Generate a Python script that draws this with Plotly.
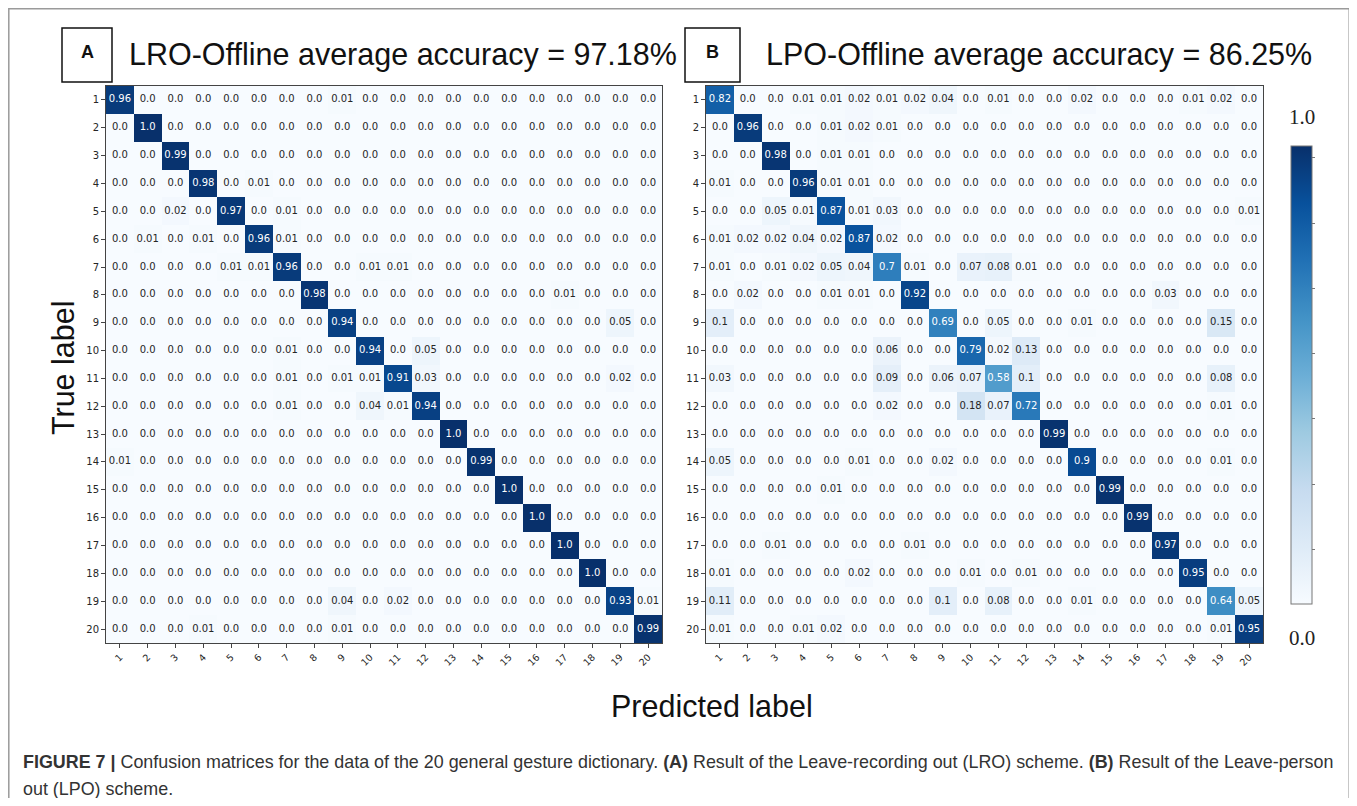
import plotly.graph_objects as go

labels = [str(i) for i in range(1, 21)]

lro_matrix = [
    [0.96, 0.0, 0.0, 0.0, 0.0, 0.0, 0.0, 0.0, 0.01, 0.0, 0.0, 0.0, 0.0, 0.0, 0.0, 0.0, 0.0, 0.0, 0.0, 0.0],
    [0.0, 1.0, 0.0, 0.0, 0.0, 0.0, 0.0, 0.0, 0.0, 0.0, 0.0, 0.0, 0.0, 0.0, 0.0, 0.0, 0.0, 0.0, 0.0, 0.0],
    [0.0, 0.0, 0.99, 0.0, 0.0, 0.0, 0.0, 0.0, 0.0, 0.0, 0.0, 0.0, 0.0, 0.0, 0.0, 0.0, 0.0, 0.0, 0.0, 0.0],
    [0.0, 0.0, 0.0, 0.98, 0.0, 0.01, 0.0, 0.0, 0.0, 0.0, 0.0, 0.0, 0.0, 0.0, 0.0, 0.0, 0.0, 0.0, 0.0, 0.0],
    [0.0, 0.0, 0.02, 0.0, 0.97, 0.0, 0.01, 0.0, 0.0, 0.0, 0.0, 0.0, 0.0, 0.0, 0.0, 0.0, 0.0, 0.0, 0.0, 0.0],
    [0.0, 0.01, 0.0, 0.01, 0.0, 0.96, 0.01, 0.0, 0.0, 0.0, 0.0, 0.0, 0.0, 0.0, 0.0, 0.0, 0.0, 0.0, 0.0, 0.0],
    [0.0, 0.0, 0.0, 0.0, 0.01, 0.01, 0.96, 0.0, 0.0, 0.01, 0.01, 0.0, 0.0, 0.0, 0.0, 0.0, 0.0, 0.0, 0.0, 0.0],
    [0.0, 0.0, 0.0, 0.0, 0.0, 0.0, 0.0, 0.98, 0.0, 0.0, 0.0, 0.0, 0.0, 0.0, 0.0, 0.0, 0.01, 0.0, 0.0, 0.0],
    [0.0, 0.0, 0.0, 0.0, 0.0, 0.0, 0.0, 0.0, 0.94, 0.0, 0.0, 0.0, 0.0, 0.0, 0.0, 0.0, 0.0, 0.0, 0.05, 0.0],
    [0.0, 0.0, 0.0, 0.0, 0.0, 0.0, 0.01, 0.0, 0.0, 0.94, 0.0, 0.05, 0.0, 0.0, 0.0, 0.0, 0.0, 0.0, 0.0, 0.0],
    [0.0, 0.0, 0.0, 0.0, 0.0, 0.0, 0.01, 0.0, 0.01, 0.01, 0.91, 0.03, 0.0, 0.0, 0.0, 0.0, 0.0, 0.0, 0.02, 0.0],
    [0.0, 0.0, 0.0, 0.0, 0.0, 0.0, 0.01, 0.0, 0.0, 0.04, 0.01, 0.94, 0.0, 0.0, 0.0, 0.0, 0.0, 0.0, 0.0, 0.0],
    [0.0, 0.0, 0.0, 0.0, 0.0, 0.0, 0.0, 0.0, 0.0, 0.0, 0.0, 0.0, 1.0, 0.0, 0.0, 0.0, 0.0, 0.0, 0.0, 0.0],
    [0.01, 0.0, 0.0, 0.0, 0.0, 0.0, 0.0, 0.0, 0.0, 0.0, 0.0, 0.0, 0.0, 0.99, 0.0, 0.0, 0.0, 0.0, 0.0, 0.0],
    [0.0, 0.0, 0.0, 0.0, 0.0, 0.0, 0.0, 0.0, 0.0, 0.0, 0.0, 0.0, 0.0, 0.0, 1.0, 0.0, 0.0, 0.0, 0.0, 0.0],
    [0.0, 0.0, 0.0, 0.0, 0.0, 0.0, 0.0, 0.0, 0.0, 0.0, 0.0, 0.0, 0.0, 0.0, 0.0, 1.0, 0.0, 0.0, 0.0, 0.0],
    [0.0, 0.0, 0.0, 0.0, 0.0, 0.0, 0.0, 0.0, 0.0, 0.0, 0.0, 0.0, 0.0, 0.0, 0.0, 0.0, 1.0, 0.0, 0.0, 0.0],
    [0.0, 0.0, 0.0, 0.0, 0.0, 0.0, 0.0, 0.0, 0.0, 0.0, 0.0, 0.0, 0.0, 0.0, 0.0, 0.0, 0.0, 1.0, 0.0, 0.0],
    [0.0, 0.0, 0.0, 0.0, 0.0, 0.0, 0.0, 0.0, 0.04, 0.0, 0.02, 0.0, 0.0, 0.0, 0.0, 0.0, 0.0, 0.0, 0.93, 0.01],
    [0.0, 0.0, 0.0, 0.01, 0.0, 0.0, 0.0, 0.0, 0.01, 0.0, 0.0, 0.0, 0.0, 0.0, 0.0, 0.0, 0.0, 0.0, 0.0, 0.99],
]

lpo_matrix = [
    [0.82, 0.0, 0.0, 0.01, 0.01, 0.02, 0.01, 0.02, 0.04, 0.0, 0.01, 0.0, 0.0, 0.02, 0.0, 0.0, 0.0, 0.01, 0.02, 0.0],
    [0.0, 0.96, 0.0, 0.0, 0.01, 0.02, 0.01, 0.0, 0.0, 0.0, 0.0, 0.0, 0.0, 0.0, 0.0, 0.0, 0.0, 0.0, 0.0, 0.0],
    [0.0, 0.0, 0.98, 0.0, 0.01, 0.01, 0.0, 0.0, 0.0, 0.0, 0.0, 0.0, 0.0, 0.0, 0.0, 0.0, 0.0, 0.0, 0.0, 0.0],
    [0.01, 0.0, 0.0, 0.96, 0.01, 0.01, 0.0, 0.0, 0.0, 0.0, 0.0, 0.0, 0.0, 0.0, 0.0, 0.0, 0.0, 0.0, 0.0, 0.0],
    [0.0, 0.0, 0.05, 0.01, 0.87, 0.01, 0.03, 0.0, 0.0, 0.0, 0.0, 0.0, 0.0, 0.0, 0.0, 0.0, 0.0, 0.0, 0.0, 0.01],
    [0.01, 0.02, 0.02, 0.04, 0.02, 0.87, 0.02, 0.0, 0.0, 0.0, 0.0, 0.0, 0.0, 0.0, 0.0, 0.0, 0.0, 0.0, 0.0, 0.0],
    [0.01, 0.0, 0.01, 0.02, 0.05, 0.04, 0.7, 0.01, 0.0, 0.07, 0.08, 0.01, 0.0, 0.0, 0.0, 0.0, 0.0, 0.0, 0.0, 0.0],
    [0.0, 0.02, 0.0, 0.0, 0.01, 0.01, 0.0, 0.92, 0.0, 0.0, 0.0, 0.0, 0.0, 0.0, 0.0, 0.0, 0.03, 0.0, 0.0, 0.0],
    [0.1, 0.0, 0.0, 0.0, 0.0, 0.0, 0.0, 0.0, 0.69, 0.0, 0.05, 0.0, 0.0, 0.01, 0.0, 0.0, 0.0, 0.0, 0.15, 0.0],
    [0.0, 0.0, 0.0, 0.0, 0.0, 0.0, 0.06, 0.0, 0.0, 0.79, 0.02, 0.13, 0.0, 0.0, 0.0, 0.0, 0.0, 0.0, 0.0, 0.0],
    [0.03, 0.0, 0.0, 0.0, 0.0, 0.0, 0.09, 0.0, 0.06, 0.07, 0.58, 0.1, 0.0, 0.0, 0.0, 0.0, 0.0, 0.0, 0.08, 0.0],
    [0.0, 0.0, 0.0, 0.0, 0.0, 0.0, 0.02, 0.0, 0.0, 0.18, 0.07, 0.72, 0.0, 0.0, 0.0, 0.0, 0.0, 0.0, 0.01, 0.0],
    [0.0, 0.0, 0.0, 0.0, 0.0, 0.0, 0.0, 0.0, 0.0, 0.0, 0.0, 0.0, 0.99, 0.0, 0.0, 0.0, 0.0, 0.0, 0.0, 0.0],
    [0.05, 0.0, 0.0, 0.0, 0.0, 0.01, 0.0, 0.0, 0.02, 0.0, 0.0, 0.0, 0.0, 0.9, 0.0, 0.0, 0.0, 0.0, 0.01, 0.0],
    [0.0, 0.0, 0.0, 0.0, 0.01, 0.0, 0.0, 0.0, 0.0, 0.0, 0.0, 0.0, 0.0, 0.0, 0.99, 0.0, 0.0, 0.0, 0.0, 0.0],
    [0.0, 0.0, 0.0, 0.0, 0.0, 0.0, 0.0, 0.0, 0.0, 0.0, 0.0, 0.0, 0.0, 0.0, 0.0, 0.99, 0.0, 0.0, 0.0, 0.0],
    [0.0, 0.0, 0.01, 0.0, 0.0, 0.0, 0.0, 0.01, 0.0, 0.0, 0.0, 0.0, 0.0, 0.0, 0.0, 0.0, 0.97, 0.0, 0.0, 0.0],
    [0.01, 0.0, 0.0, 0.0, 0.0, 0.02, 0.0, 0.0, 0.0, 0.01, 0.0, 0.01, 0.0, 0.0, 0.0, 0.0, 0.0, 0.95, 0.0, 0.0],
    [0.11, 0.0, 0.0, 0.0, 0.0, 0.0, 0.0, 0.0, 0.1, 0.0, 0.08, 0.0, 0.0, 0.01, 0.0, 0.0, 0.0, 0.0, 0.64, 0.05],
    [0.01, 0.0, 0.0, 0.01, 0.02, 0.0, 0.0, 0.0, 0.0, 0.0, 0.0, 0.0, 0.0, 0.0, 0.0, 0.0, 0.0, 0.0, 0.01, 0.95],
]

title_a = "LRO-Offline average accuracy = 97.18%"
title_b = "LPO-Offline average accuracy = 86.25%"
caption_1 = ("<b>FIGURE 7 |</b> Confusion matrices for the data of the 20 general gesture dictionary. "
             "<b>(A)</b> Result of the Leave-recording out (LRO) scheme. <b>(B)</b> Result of the Leave-person")
caption_2 = "out (LPO) scheme."

# matplotlib "Blues"
blues = [
    [0.0, "#f7fbff"], [0.125, "#deebf7"], [0.25, "#c6dbef"], [0.375, "#9ecae1"],
    [0.5, "#6baed6"], [0.625, "#4292c6"], [0.75, "#2171b5"], [0.875, "#08519c"], [1.0, "#08306b"],
]

# the page body has an 8px margin; the figure covers window pixels 8..1349 x 8..797
OFF = 8
W, H = 1357 - 2 * OFF, 806 - 2 * OFF


def px(x):
    return (x - OFF) / W


def py(y):
    return 1 - (y - OFF) / H


SANS = "Liberation Sans, Arial, sans-serif"

fig = go.Figure()


def add_matrix(mat, xa, ya, showscale):
    fig.add_trace(go.Heatmap(
        z=mat, x=labels, y=labels, xaxis=xa, yaxis=ya,
        colorscale=blues, zmin=0, zmax=1, showscale=showscale, xgap=0, ygap=0,
        colorbar=dict(
            x=px(1291), xanchor="left", y=py(146), yanchor="top",
            len=(604 - 146) / H, lenmode="fraction", thickness=21, thicknessmode="pixels",
            xpad=0, ypad=0,
            outlinecolor="#777", outlinewidth=1, ticks="outside", ticklen=3, tickcolor="#777",
            showticklabels=False, tickmode="linear", tick0=0.119, dtick=0.1425,
        ) if showscale else None,
        hoverinfo="skip",
    ))
    xs, ys, ts, cs = [], [], [], []
    for i, row in enumerate(mat):
        for j, v in enumerate(row):
            xs.append(labels[j])
            ys.append(labels[i])
            ts.append(str(v))
            cs.append("#ffffff" if v > 0.5 else "#262626")
    fig.add_trace(go.Scatter(
        x=xs, y=ys, text=ts, mode="text", xaxis=xa, yaxis=ya,
        textfont=dict(family="DejaVu Sans", size=10, color=cs),
        textposition="middle center", hoverinfo="skip", showlegend=False,
    ))


add_matrix(lro_matrix, "x", "y", False)
add_matrix(lpo_matrix, "x2", "y2", True)

n = len(labels)
axis_common = dict(
    type="category", showline=True, mirror=True, linecolor="#444", linewidth=1,
    ticks="outside", ticklen=4, tickcolor="#444", showgrid=False, zeroline=False,
    tickfont=dict(family="DejaVu Sans", size=10, color="#262626"),
)
ydom = [py(643), py(86)]
fig.update_layout(
    width=W, height=H, autosize=False,
    margin=dict(l=0, r=0, t=0, b=0),
    paper_bgcolor="white", plot_bgcolor="white", showlegend=False,
    xaxis=dict(domain=[px(106), px(662)], anchor="y", tickangle=-45, range=[-0.5, n - 0.5], **axis_common),
    yaxis=dict(domain=ydom, anchor="x", range=[n - 0.5, -0.5], **axis_common),
    xaxis2=dict(domain=[px(706), px(1263)], anchor="y2", tickangle=-45, range=[-0.5, n - 0.5], **axis_common),
    yaxis2=dict(domain=ydom, anchor="x2", range=[n - 0.5, -0.5], **axis_common),
)
fig.update_xaxes(tickfont=dict(size=9.5))

shapes = [
    dict(type="rect", xref="paper", yref="paper", x0=px(8.8), x1=px(1349.2), y0=py(8.8), y1=py(830),
         line=dict(color="#9a9a9a", width=1.5)),
    dict(type="rect", xref="paper", yref="paper", x0=px(62), x1=px(112), y0=py(28), y1=py(82),
         line=dict(color="#111", width=1.5)),
    dict(type="rect", xref="paper", yref="paper", x0=px(685), x1=px(740), y0=py(28), y1=py(82),
         line=dict(color="#111", width=1.5)),
]

ann = [
    dict(text="<b>A</b>", x=px(87), y=py(52), font=dict(family=SANS, size=18, color="#111")),
    dict(text="<b>B</b>", x=px(712), y=py(52), font=dict(family=SANS, size=18, color="#111")),
    dict(text=title_a, x=px(127), y=py(55), xanchor="left",
         font=dict(family=SANS, size=30.5, color="#111")),
    dict(text=title_b, x=px(764), y=py(55), xanchor="left",
         font=dict(family=SANS, size=30.5, color="#111")),
    dict(text="True label", x=px(63), y=py(368), textangle=-90,
         font=dict(family=SANS, size=30.5, color="#111")),
    dict(text="Predicted label", x=px(712), y=py(706),
         font=dict(family=SANS, size=30.5, color="#111")),
    dict(text="1.0", x=px(1302), y=py(117),
         font=dict(family="Liberation Serif, DejaVu Serif, serif", size=21, color="#222")),
    dict(text="0.0", x=px(1302), y=py(638),
         font=dict(family="Liberation Serif, DejaVu Serif, serif", size=21, color="#222")),
    dict(text=caption_1, x=px(21), y=py(762), xanchor="left",
         font=dict(family=SANS, size=17.9, color="#333")),
    dict(text=caption_2, x=px(21), y=py(789), xanchor="left",
         font=dict(family=SANS, size=17.9, color="#333")),
]
for a in ann:
    a.setdefault("xanchor", "center")
    a.update(xref="paper", yref="paper", yanchor="middle", showarrow=False)

fig.update_layout(shapes=shapes, annotations=ann)

fig.write_html("out.html")
